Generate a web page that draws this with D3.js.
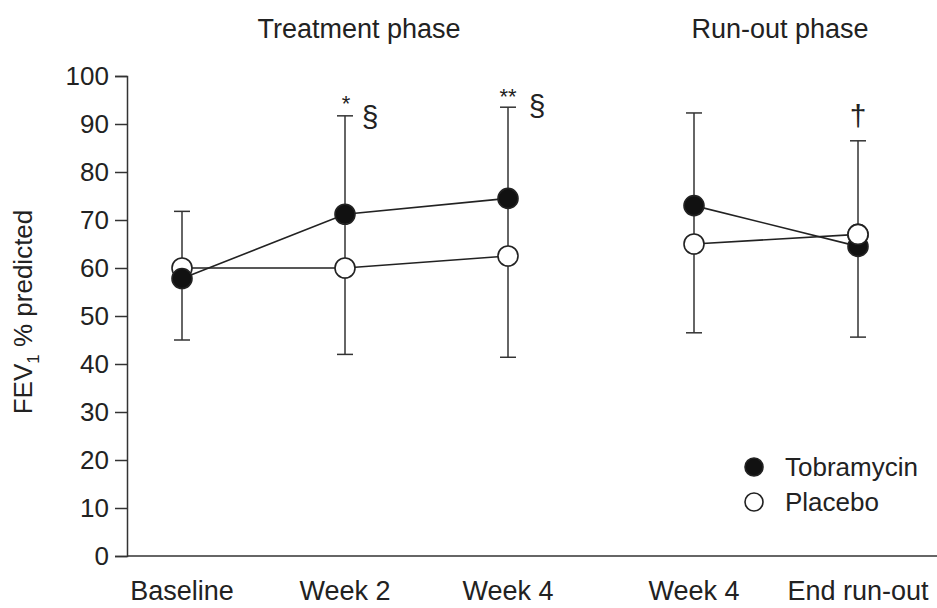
<!DOCTYPE html>
<html>
<head>
<meta charset="utf-8">
<script src="https://cdn.jsdelivr.net/npm/d3@7"></script>
<style>
  body { margin: 0; background: #fff; }
  text { font-family: "Liberation Sans", Arial, sans-serif; fill: #222; }
</style>
</head>
<body>
<div id="chart-area"></div>
<script>
// data
let timepoints = ["Baseline", "Week 2", "Week 4", "Week 4 ", "End run-out"];
let labels = ["Baseline", "Week 2", "Week 4", "Week 4", "End run-out"];
let tobramycin = [57.8, 71.2, 74.5, 73.0, 64.5];
let placebo = [60.0, 60.0, 62.5, 65.0, 67.0];
let whiskerTop = [71.8, 91.7, 93.5, 92.3, 86.5];
let whiskerBottom = [45.0, 42.0, 41.4, 46.5, 45.6];
let yTicks = [0, 10, 20, 30, 40, 50, 60, 70, 80, 90, 100];
let marks = [
  {at: "Week 2", text: "*", dx: 1, value: 92.7, size: 22},
  {at: "Week 2", text: "§", dx: 25, value: 89.4, size: 30},
  {at: "Week 4", text: "**", dx: 0, value: 94.2, size: 22},
  {at: "Week 4", text: "§", dx: 29, value: 91.7, size: 30},
  {at: "End run-out", text: "†", dx: 0, value: 89.6, size: 30}
];

let w = 937;
let h = 608;

let svg = d3.select("#chart-area")
    .append("svg")
    .attr("width", w)
    .attr("height", h);

// x positions: two phase groups with a wider gap between them
let xPos = {"Baseline": 182, "Week 2": 345, "Week 4": 508, "Week 4 ": 694, "End run-out": 858};
let xs = function(k){ return xPos[k]; };

let y = d3.scaleLinear()
    .domain([0, 100])
    .range([556, 76]);

// y axis
let yAxis = d3.axisLeft(y)
    .tickValues(yTicks)
    .tickSize(12)
    .tickPadding(6);

let gy = svg.append("g")
    .attr("transform", "translate(127,0)")
    .call(yAxis);
gy.select(".domain").attr("stroke", "#333").attr("stroke-width", 1.5);
gy.selectAll(".tick line").attr("stroke", "#333").attr("stroke-width", 1.5);
gy.selectAll(".tick text")
    .attr("font-size", 26)
    .attr("fill", "#222")
    .style("font-family", "Liberation Sans, Arial, sans-serif");

// x axis line + labels
svg.append("line")
    .attr("x1", 127).attr("x2", 937)
    .attr("y1", y(0)).attr("y2", y(0))
    .attr("stroke", "#333").attr("stroke-width", 1.5);

svg.selectAll(".xlabel")
    .data(timepoints)
    .enter()
    .append("text")
    .attr("class", "xlabel")
    .attr("x", function(d){ return xs(d); })
    .attr("y", 600)
    .attr("text-anchor", "middle")
    .attr("font-size", 27)
    .text(function(d, i){ return labels[i]; });

// y label
svg.append("text")
    .attr("transform", "translate(32,312) rotate(-90)")
    .attr("text-anchor", "middle")
    .attr("font-size", 26)
    .html("FEV<tspan font-size='17' dy='7'>1</tspan><tspan dy='-7'> % predicted</tspan>");

// phase titles
svg.append("text")
    .attr("x", 359).attr("y", 38)
    .attr("text-anchor", "middle")
    .attr("font-size", 27)
    .text("Treatment phase");
svg.append("text")
    .attr("x", 780).attr("y", 38)
    .attr("text-anchor", "middle")
    .attr("font-size", 27)
    .text("Run-out phase");

// error bars
let ebar = svg.selectAll(".ebar")
    .data(timepoints)
    .enter()
    .append("g")
    .attr("class", "ebar")
    .attr("stroke", "#333")
    .attr("stroke-width", 1.5);
ebar.append("line")
    .attr("x1", function(d){ return xs(d); })
    .attr("x2", function(d){ return xs(d); })
    .attr("y1", function(d, i){ return y(whiskerTop[i]); })
    .attr("y2", function(d, i){ return y(whiskerBottom[i]); });
ebar.append("line")
    .attr("x1", function(d){ return xs(d) - 8; })
    .attr("x2", function(d){ return xs(d) + 8; })
    .attr("y1", function(d, i){ return y(whiskerTop[i]); })
    .attr("y2", function(d, i){ return y(whiskerTop[i]); });
ebar.append("line")
    .attr("x1", function(d){ return xs(d) - 8; })
    .attr("x2", function(d){ return xs(d) + 8; })
    .attr("y1", function(d, i){ return y(whiskerBottom[i]); })
    .attr("y2", function(d, i){ return y(whiskerBottom[i]); });

// lines, split into phases
let line = d3.line()
    .x(function(d){ return xs(d.k); })
    .y(function(d){ return y(d.v); });

let phases = [timepoints.slice(0, 3), timepoints.slice(3)];
[placebo, tobramycin].forEach(function(series){
  phases.forEach(function(ph){
    let pts = ph.map(function(k){ return {k: k, v: series[timepoints.indexOf(k)]}; });
    svg.append("path")
        .attr("d", line(pts))
        .attr("fill", "none")
        .attr("stroke", "#222")
        .attr("stroke-width", 1.6);
  });
});

// points
function dots(series, fill, cls){
  svg.selectAll("." + cls)
      .data(timepoints)
      .enter()
      .append("circle")
      .attr("class", cls)
      .attr("cx", function(d){ return xs(d); })
      .attr("cy", function(d, i){ return y(series[i]); })
      .attr("r", 10)
      .attr("fill", fill)
      .attr("stroke", "#222")
      .attr("stroke-width", 1.6);
}
dots(placebo, "#fff", "pl");
dots(tobramycin, "#111", "tb");
// placebo sits on top at end run-out
svg.append("circle")
    .attr("cx", xs("End run-out"))
    .attr("cy", y(placebo[4]))
    .attr("r", 10)
    .attr("fill", "#fff")
    .attr("stroke", "#222")
    .attr("stroke-width", 1.6);

// significance marks
svg.selectAll(".mark")
    .data(marks)
    .enter()
    .append("text")
    .attr("class", "mark")
    .attr("x", function(d){ return xs(d.at) + d.dx; })
    .attr("y", function(d){ return y(d.value); })
    .attr("text-anchor", "middle")
    .attr("font-size", function(d){ return d.size; })
    .text(function(d){ return d.text; });

// legend
let legend = [{name: "Tobramycin", fill: "#111"}, {name: "Placebo", fill: "#fff"}];
let lg = svg.selectAll(".lg")
    .data(legend)
    .enter()
    .append("g")
    .attr("class", "lg")
    .attr("transform", function(d, i){ return "translate(754," + (467 + i * 35) + ")"; });
lg.append("circle")
    .attr("r", 9)
    .attr("fill", function(d){ return d.fill; })
    .attr("stroke", "#222")
    .attr("stroke-width", 1.6);
lg.append("text")
    .attr("x", 31)
    .attr("y", 9)
    .attr("font-size", 26)
    .text(function(d){ return d.name; });
</script>
</body>
</html>
